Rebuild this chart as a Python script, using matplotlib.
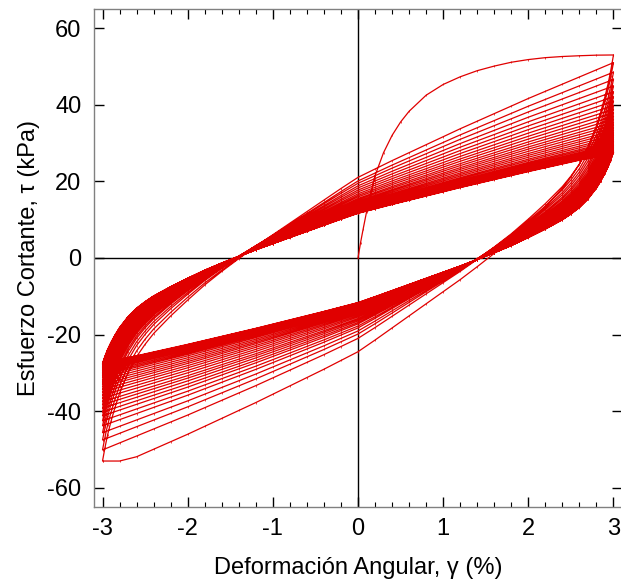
import numpy as np
import matplotlib
matplotlib.use("Agg")
import matplotlib.pyplot as plt
from matplotlib.ticker import MultipleLocator

plt.rcParams['font.family'] = ['Liberation Sans', 'DejaVu Sans']
plt.rcParams['axes.unicode_minus'] = False

# strain amplitude of the cyclic test (%)
strain_amp = 3.0

# first loading (backbone) curve
backbone_strain = [0, 0.03, 0.06, 0.1, 0.15, 0.2, 0.3, 0.4, 0.5, 0.6, 0.8, 1.0,
                   1.2, 1.4, 1.6, 1.8, 2.0, 2.2, 2.4, 2.6, 2.8, 3.0]
backbone_stress = [0, 4.0, 7.5, 12.0, 16.8, 21.5, 27.5, 32.0, 35.5, 38.3, 42.5, 45.3,
                   47.3, 48.9, 50.1, 51.1, 51.8, 52.3, 52.6, 52.8, 52.95, 53.0]

# shape of a reversal branch: strain travelled since reversal vs. fraction of stress range
branch_dstrain = [0, 0.03, 0.06, 0.1, 0.15, 0.2, 0.3, 0.4, 0.5, 0.6, 0.8,
                  1.0, 1.2, 1.4, 1.6, 1.8, 2.0, 2.2, 2.4, 2.6, 2.8,
                  3.0, 3.2, 3.4, 3.6, 3.8, 4.0, 4.2, 4.4, 4.6, 4.8,
                  5.0, 5.2, 5.4, 5.6, 5.8, 6.0]
branch_frac = [0, 0.035, 0.066, 0.1, 0.137, 0.17, 0.222, 0.262, 0.293, 0.32, 0.364,
               0.404, 0.442, 0.476, 0.508, 0.539, 0.568, 0.597, 0.626, 0.655, 0.684,
               0.712, 0.733, 0.754, 0.774, 0.794, 0.814, 0.834, 0.853, 0.872, 0.891,
               0.910, 0.928, 0.946, 0.964, 0.982, 1.0]

# stress reached at +3% and -3% on each cycle (kPa, magnitude)
pos_peak = [53.0, 51.0, 48.5, 46.6, 44.9, 43.4, 42.1, 40.9, 39.8, 38.8, 37.9, 37.0,
            36.2, 35.4, 34.7, 34.0, 33.3, 32.7, 32.1, 31.5, 31.0, 30.5, 30.1, 29.7,
            29.4, 29.1, 28.8, 28.6, 28.4, 28.2, 28.0, 27.9, 27.8, 27.7, 27.6, 27.5]
neg_peak = [55.8, 50.1, 47.5, 45.6, 43.8, 42.5, 41.2, 40.2, 39.2, 38.3, 37.5, 36.6,
            35.8, 35.0, 34.3, 33.6, 33.0, 32.4, 31.8, 31.2, 30.7, 30.3, 29.9, 29.5,
            29.2, 28.9, 28.7, 28.5, 28.3, 28.1, 27.9, 27.8, 27.7, 27.6, 27.5]

strength = max(backbone_stress)

d = np.array(branch_dstrain)
f = np.array(branch_frac)

gam = [np.array(backbone_strain)]
tau = [np.array(backbone_stress)]
for k in range(len(neg_peak)):
    # unloading from +3% towards -3%
    t = pos_peak[k] - (pos_peak[k] + neg_peak[k]) * f
    t = np.maximum(t, -strength)
    gam.append(strain_amp - d)
    tau.append(t)
    # reloading from -3% back to +3%
    low = t[-1]
    gam.append(-strain_amp + d)
    tau.append(low + (pos_peak[k + 1] - low) * f)

gam = np.concatenate(gam)
tau = np.concatenate(tau)

fig = plt.figure(figsize=(6.21, 5.84), dpi=100)
ax = fig.add_axes([94 / 621, 77 / 584, 528 / 621, 498 / 584])

ax.axhline(0, color='black', lw=1.0, zorder=1)
ax.axvline(0, color='black', lw=1.0, zorder=1)
ax.plot(gam, tau, color='#e00000', lw=0.9, marker='|', ms=2.0, mew=0.5, zorder=2)

ax.set_xlim(-3.1, 3.1)
ax.set_ylim(-65, 65)
ax.xaxis.set_major_locator(MultipleLocator(1))
ax.xaxis.set_minor_locator(MultipleLocator(0.2))
ax.yaxis.set_major_locator(MultipleLocator(20))
ax.tick_params(which='both', direction='in', top=True, right=True,
               labelsize=17, color='black')
ax.tick_params(which='major', length=7, width=1.0)
ax.tick_params(which='minor', length=3.5, width=0.8)
ax.tick_params(axis='x', pad=8)
ax.tick_params(axis='y', pad=9)
for s in ax.spines.values():
    s.set_color('#808080')
    s.set_linewidth(1.0)

ax.set_xlabel('Deformación Angular, γ (%)', fontsize=17, labelpad=12)
ax.set_ylabel('Esfuerzo Cortante, τ (kPa)', fontsize=17, labelpad=5)

fig.savefig('out.png', dpi=100)
